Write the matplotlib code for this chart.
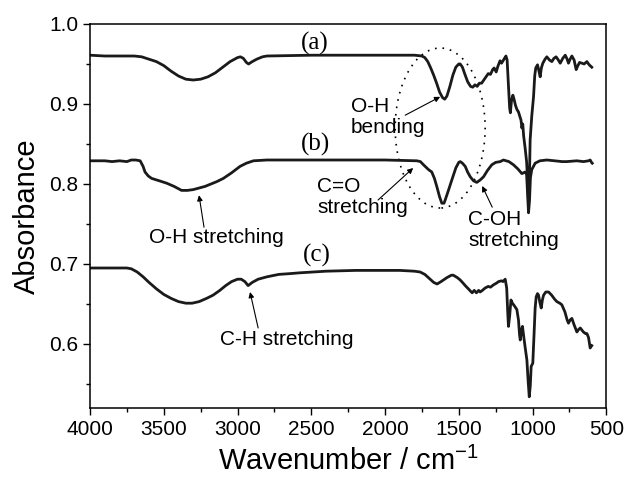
import matplotlib
matplotlib.use('Agg')
from matplotlib import pyplot as plt
from matplotlib.patches import Ellipse
from matplotlib.ticker import MultipleLocator

# spectrum (a)
wn_a = [4000, 3900, 3800, 3700, 3650, 3600, 3550, 3500, 3450, 3400, 3350, 3300, 3250,
        3200, 3150, 3100, 3050, 3000, 2980, 2960, 2940, 2925, 2900, 2870, 2830, 2800,
        2500, 2000, 1800, 1750, 1730, 1710, 1690, 1670, 1650, 1630, 1610, 1595, 1580,
        1560, 1540, 1520, 1500, 1490, 1475, 1460, 1440, 1420, 1405, 1390, 1375, 1360,
        1345, 1330, 1315, 1300, 1285, 1270, 1260, 1246, 1235, 1220, 1210, 1200, 1190,
        1180, 1172, 1165, 1155, 1150, 1142, 1133, 1125, 1115, 1105, 1095, 1085, 1078,
        1072, 1066, 1060, 1050, 1040, 1032, 1027, 1020, 1016, 1005, 993, 985, 978, 966,
        955, 948, 940, 930, 915, 903, 885, 869, 855, 840, 825, 812, 795, 778, 765, 756,
        745, 733, 718, 704, 692, 681, 665, 650, 631, 620, 610, 598]
abs_a = [0.961, 0.960, 0.960, 0.960, 0.959, 0.956, 0.953, 0.948, 0.941, 0.935, 0.931,
         0.930, 0.931, 0.934, 0.939, 0.946, 0.953, 0.958, 0.959, 0.957, 0.952, 0.950,
         0.953, 0.956, 0.959, 0.960, 0.961, 0.961, 0.961, 0.960, 0.958, 0.953, 0.945,
         0.936, 0.926, 0.915, 0.908, 0.906, 0.910, 0.922, 0.936, 0.946, 0.950, 0.950,
         0.946, 0.938, 0.928, 0.922, 0.921, 0.924, 0.922, 0.926, 0.926, 0.930, 0.934,
         0.938, 0.937, 0.943, 0.945, 0.940, 0.947, 0.954, 0.951, 0.954, 0.957, 0.960,
         0.955, 0.930, 0.895, 0.889, 0.905, 0.911, 0.906, 0.898, 0.893, 0.890, 0.884,
         0.880, 0.870, 0.875, 0.860, 0.845, 0.828, 0.800, 0.775, 0.815, 0.855, 0.885,
         0.909, 0.935, 0.945, 0.949, 0.940, 0.934, 0.945, 0.951, 0.956, 0.959, 0.955,
         0.953, 0.957, 0.959, 0.955, 0.951, 0.957, 0.961, 0.956, 0.951, 0.956, 0.960,
         0.955, 0.943, 0.948, 0.952, 0.951, 0.950, 0.953, 0.950, 0.948, 0.946]

# spectrum (b)
wn_b = [4000, 3900, 3850, 3800, 3750, 3720, 3690, 3660, 3640, 3627, 3605, 3582, 3530,
        3480, 3430, 3379, 3340, 3300, 3260, 3220, 3180, 3140, 3096, 3040, 2983, 2940,
        2892, 2800, 2500, 2000, 1784, 1760, 1739, 1705, 1683, 1665, 1649, 1630, 1615,
        1600, 1592, 1570, 1547, 1520, 1500, 1490, 1475, 1456, 1440, 1422, 1400, 1378,
        1355, 1332, 1305, 1276, 1250, 1219, 1197, 1160, 1129, 1100, 1072, 1050, 1040,
        1034, 1027, 1020, 1014, 1005, 982, 950, 903, 850, 800, 767, 700, 654, 620, 609,
        600, 595]
abs_b = [0.829, 0.829, 0.828, 0.829, 0.828, 0.830, 0.830, 0.829, 0.822, 0.815, 0.810,
         0.807, 0.804, 0.801, 0.797, 0.792, 0.792, 0.793, 0.795, 0.797, 0.800, 0.803,
         0.807, 0.814, 0.822, 0.826, 0.829, 0.830, 0.830, 0.830, 0.829, 0.828, 0.824,
         0.818, 0.815, 0.807, 0.797, 0.784, 0.776, 0.776, 0.780, 0.792, 0.805, 0.820,
         0.827, 0.828, 0.826, 0.822, 0.815, 0.809, 0.804, 0.802, 0.805, 0.809, 0.817,
         0.824, 0.827, 0.828, 0.830, 0.828, 0.824, 0.819, 0.813, 0.815, 0.812, 0.790,
         0.764, 0.780, 0.808, 0.818, 0.826, 0.829, 0.830, 0.829, 0.828, 0.828, 0.829,
         0.828, 0.829, 0.830, 0.827, 0.826]

# spectrum (c)
wn_c = [4000, 3900, 3800, 3750, 3720, 3680, 3640, 3600, 3550, 3500, 3450, 3400, 3350,
        3308, 3260, 3210, 3166, 3120, 3080, 3040, 3000, 2975, 2950, 2928, 2900, 2860,
        2800, 2720, 2643, 2576, 2400, 2200, 2012, 1900, 1800, 1762, 1730, 1700, 1670,
        1647, 1620, 1580, 1550, 1537, 1510, 1490, 1470, 1456, 1435, 1420, 1409, 1395,
        1380, 1365, 1355, 1340, 1321, 1300, 1285, 1264, 1245, 1230, 1210, 1200, 1185,
        1175, 1168, 1163, 1155, 1146, 1136, 1120, 1106, 1095, 1088, 1083, 1075, 1068,
        1060, 1050, 1038, 1030, 1022, 1015, 1009, 998, 990, 982, 975, 966, 959, 950,
        941, 933, 925, 910, 891, 870, 850, 835, 815, 801, 780, 765, 756, 745, 733, 718,
        699, 688, 676, 655, 640, 631, 620, 609, 598]
abs_c = [0.695, 0.695, 0.695, 0.695, 0.694, 0.690, 0.684, 0.677, 0.669, 0.662, 0.657,
         0.653, 0.651, 0.651, 0.653, 0.657, 0.661, 0.667, 0.673, 0.678, 0.681, 0.681,
         0.678, 0.673, 0.677, 0.681, 0.684, 0.687, 0.688, 0.689, 0.691, 0.692, 0.692,
         0.692, 0.691, 0.690, 0.687, 0.682, 0.677, 0.675, 0.678, 0.683, 0.686, 0.686,
         0.683, 0.680, 0.676, 0.673, 0.669, 0.666, 0.664, 0.667, 0.664, 0.667, 0.665,
         0.667, 0.670, 0.672, 0.671, 0.674, 0.676, 0.678, 0.679, 0.678, 0.681, 0.670,
         0.640, 0.622, 0.635, 0.655, 0.651, 0.647, 0.643, 0.630, 0.612, 0.605, 0.618,
         0.622, 0.610, 0.596, 0.580, 0.555, 0.534, 0.548, 0.572, 0.576, 0.610, 0.645,
         0.659, 0.663, 0.661, 0.652, 0.645, 0.655, 0.661, 0.665, 0.665, 0.661, 0.656,
         0.653, 0.651, 0.649, 0.640, 0.630, 0.626, 0.630, 0.632, 0.624, 0.615, 0.618,
         0.620, 0.615, 0.613, 0.613, 0.608, 0.595, 0.598]

plt.rcParams['font.family'] = ['Liberation Sans', 'DejaVu Sans']
plt.rcParams['mathtext.fontset'] = 'custom'
plt.rcParams['mathtext.rm'] = 'Liberation Sans'

fig = plt.figure(figsize=(6.25, 4.8), dpi=100)
ax = fig.add_axes([0.144, 0.15, 0.826, 0.80])

for wn, ab in [(wn_a, abs_a), (wn_b, abs_b), (wn_c, abs_c)]:
    ax.plot(wn, ab, c='#1a1a1a', lw=2.0, solid_joinstyle='round')

ax.set_xlim(4000, 500)
ax.set_ylim(0.52, 1.0)
ax.xaxis.set_major_locator(MultipleLocator(500))
ax.xaxis.set_minor_locator(MultipleLocator(250))
ax.yaxis.set_major_locator(MultipleLocator(0.1))
ax.yaxis.set_minor_locator(MultipleLocator(0.05))
ax.yaxis.set_major_formatter(matplotlib.ticker.FormatStrFormatter('%.1f'))
ax.tick_params(axis='both', which='major', labelsize=15, length=5, width=1, direction='out')
ax.tick_params(axis='both', which='minor', length=3, width=1, direction='out')
for s in ax.spines.values():
    s.set_linewidth(1.1)

ax.set_xlabel('Wavenumber / cm$^{-1}$', fontsize=21, labelpad=6)
ax.set_ylabel('Absorbance', fontsize=21, labelpad=6)

# sample labels
serif = dict(family='Liberation Serif', fontsize=18, ha='center', va='center')
ax.text(2474, 0.976, '(a)', **serif)
ax.text(2474, 0.849, '(b)', **serif)
ax.text(2460, 0.711, '(c)', **serif)

# band assignments
arw = dict(arrowstyle='-|>', lw=0.8, color='k', mutation_scale=8, shrinkA=0, shrinkB=0)
ax.annotate('', xy=(1626, 0.909), xytext=(1863, 0.886), arrowprops=arw)
ax.text(2230, 0.909, 'O-H\nbending', fontsize=15, ha='left', va='top', linespacing=1.15)
ax.annotate('', xy=(1809, 0.82), xytext=(2047, 0.78), arrowprops=arw)
ax.text(2460, 0.809, 'C=O\nstretching', fontsize=15, ha='left', va='top', linespacing=1.15)
ax.annotate('', xy=(1341, 0.7975), xytext=(1273, 0.771), arrowprops=arw)
ax.text(1436, 0.7675, 'C-OH\nstretching', fontsize=15, ha='left', va='top', linespacing=1.15)
ax.annotate('', xy=(3261, 0.786), xytext=(3227, 0.746), arrowprops=arw)
ax.text(3145, 0.7325, 'O-H stretching', fontsize=15, ha='center', va='center')
ax.annotate('', xy=(2915, 0.665), xytext=(2860, 0.62), arrowprops=arw)
ax.text(2664, 0.606, 'C-H stretching', fontsize=15, ha='center', va='center')

ax.add_patch(Ellipse((1626, 0.870), 610, 0.2, fill=False, ec='k', lw=1.2,
                     linestyle=(0, (1, 3.5))))

fig.savefig('out.png', dpi=100)
